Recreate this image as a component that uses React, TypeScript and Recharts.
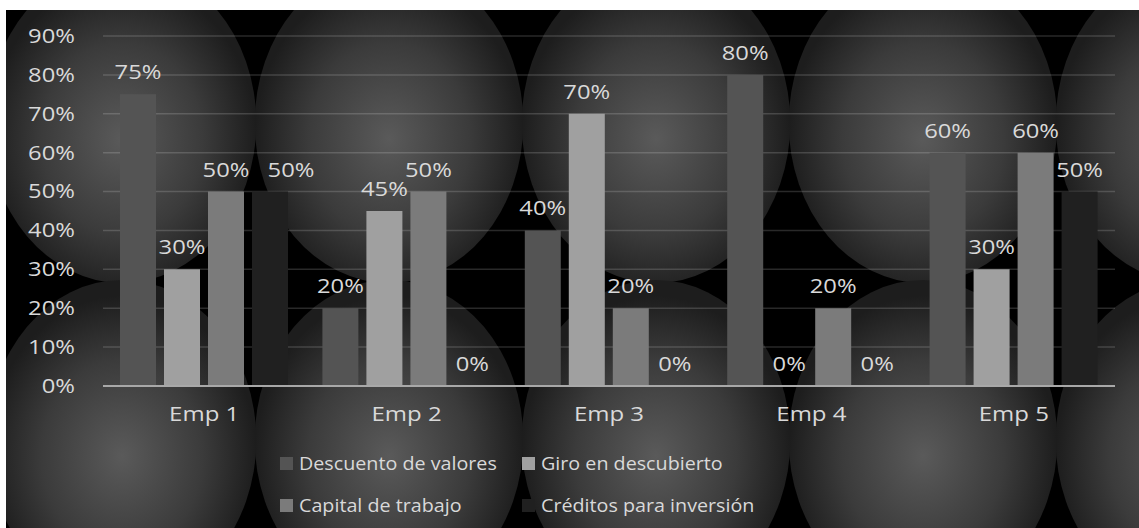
import React from 'react';
import { BarChart, Bar, XAxis, YAxis, CartesianGrid, LabelList } from 'recharts';

const categories = ['Emp 1', 'Emp 2', 'Emp 3', 'Emp 4', 'Emp 5'];
const descuento = [75, 20, 40, 80, 60];
const giro = [30, 45, 70, 0, 30];
const capital = [50, 50, 20, 20, 60];
const creditos = [50, 0, 0, 0, 50];
const seriesNames = ['Descuento de valores', 'Giro en descubierto', 'Capital de trabajo', 'Créditos para inversión'];
const seriesColors = ['#545454', '#a0a0a0', '#7b7b7b', '#202020'];
const yTicks = [0, 10, 20, 30, 40, 50, 60, 70, 80, 90];

const data = categories.map((name, i) => ({
  name,
  s0: descuento[i],
  s1: giro[i],
  s2: capital[i],
  s3: creditos[i],
}));

const W = 1133;
const H = 518;
const FONT = '"Open Sans", sans-serif';
const TXT = '#d9d9d9';

// the source text is horizontally stretched, so widen it a bit around its anchor
const stretch = (x: number, k: number) => `translate(${x} 0) scale(${k} 1) translate(${-x} 0)`;

// decorative backdrop: tiled soft spots on black
function Backdrop() {
  const spots = [];
  const rowsY = [113, 430];
  for (let row = 0; row < 2; row++) {
    for (let col = 0; col < 5; col++) {
      spots.push(
        <ellipse key={`${row}-${col}`} cx={116 + col * 267} cy={rowsY[row]} rx={134.3} ry={160} fill="url(#spot)" />
      );
    }
  }
  return (
    <svg width={W} height={H} style={{ position: 'absolute', left: 0, top: 0 }}>
      <defs>
        <radialGradient id="spot" cx="0.5" cy="0.55" r="0.5">
          <stop offset="0" stopColor="#5a5a5a" />
          <stop offset="0.6" stopColor="#3b3b3b" />
          <stop offset="1" stopColor="#1d1d1d" />
        </radialGradient>
      </defs>
      <rect width={W} height={H} fill="#000" />
      {spots}
    </svg>
  );
}

const YTick = (props: any) => {
  const { x, y, payload } = props;
  return (
    <text x={x} y={y} dy="0.355em" textAnchor="end" fill={TXT} fontSize={19.5} fontFamily={FONT} transform={stretch(x, 1.22)}>
      {`${payload.value}%`}
    </text>
  );
};

const XTick = (props: any) => {
  const { x, y, payload } = props;
  return (
    <text x={x} y={y} dy="0.71em" textAnchor="middle" fill={TXT} fontSize={20} fontFamily={FONT} transform={stretch(x, 1.2)}>
      {payload.value}
    </text>
  );
};

// nudge: label index -> horizontal shift, to keep neighbouring labels apart
const BarValue = (props: any) => {
  const { x, y, width, value, index, nudge } = props;
  const cx = Number(x) + Number(width) / 2 + ((nudge && nudge[index]) || 0);
  return (
    <text x={cx} y={Number(y) - 15} textAnchor="middle" fill={TXT} fontSize={19.5} fontFamily={FONT} transform={stretch(cx, 1.22)}>
      {`${value}%`}
    </text>
  );
};

const labelNudges: Record<string, Record<number, number>> = { s3: { 0: 21 } };

export default function App() {
  return (
    <div style={{ position: 'absolute', left: 6, top: 10, width: W, height: H, overflow: 'hidden', fontFamily: FONT }}>
      <Backdrop />
      <div style={{ position: 'absolute', left: 0, top: 0 }}>
        <BarChart
          width={W}
          height={H}
          data={data}
          margin={{ top: 26, right: 24, left: 0, bottom: 82 }}
          barCategoryGap={17}
          barGap={8}
        >
          <CartesianGrid vertical={false} stroke="rgba(255,255,255,0.16)" strokeWidth={1.5} />
          <XAxis
            dataKey="name"
            height={60}
            tickLine={false}
            tickSize={0}
            tickMargin={21}
            axisLine={{ stroke: '#a8a8a8', strokeWidth: 2 }}
            tick={<XTick />}
          />
          <YAxis
            width={97}
            domain={[0, 90]}
            ticks={yTicks}
            axisLine={false}
            tickLine={false}
            tickSize={0}
            tickMargin={28}
            tick={<YTick />}
          />
          {['s0', 's1', 's2', 's3'].map((key, i) => (
            <Bar
              key={key}
              dataKey={key}
              name={seriesNames[i]}
              fill={seriesColors[i]}
              minPointSize={0.01}
              isAnimationActive={false}
            >
              <LabelList dataKey={key} content={<BarValue nudge={labelNudges[key]} />} />
            </Bar>
          ))}
        </BarChart>
      </div>
      <div
        style={{
          position: 'absolute',
          left: 274,
          top: 432,
          display: 'grid',
          gridTemplateColumns: '242px 260px',
          gridAutoRows: '42px',
          color: TXT,
          fontSize: 17.6,
        }}
      >
        {seriesNames.map((n, i) => (
          <div key={n} style={{ display: 'flex', alignItems: 'center', whiteSpace: 'nowrap' }}>
            <span style={{ width: 13, height: 13, background: seriesColors[i], marginRight: 6, display: 'inline-block', flex: 'none' }} />
            <span style={{ display: 'inline-block', transform: 'scaleX(1.12)', transformOrigin: 'left center' }}>{n}</span>
          </div>
        ))}
      </div>
    </div>
  );
}
